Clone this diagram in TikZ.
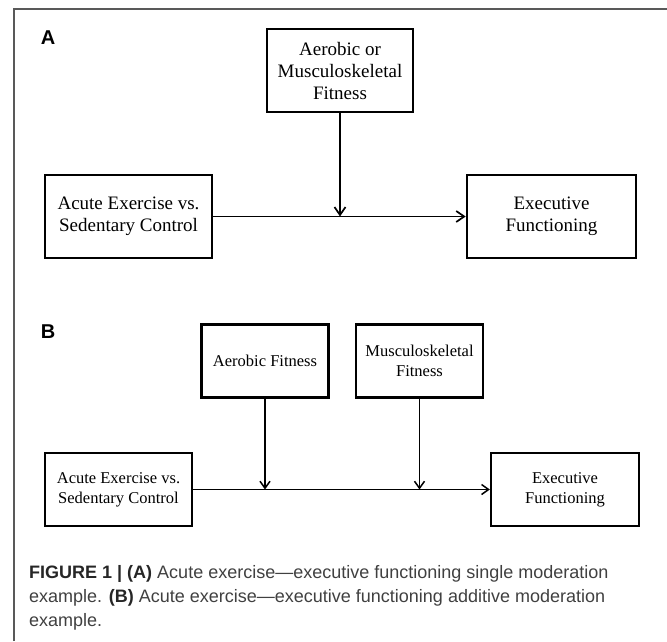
\documentclass[tikz,border=0pt]{standalone}
\usepackage{fontspec}
\setmainfont{Liberation Serif}
\setsansfont{Liberation Sans}
\usetikzlibrary{arrows.meta,positioning}
\definecolor{captext}{gray}{0.25}

\begin{document}
\begin{tikzpicture}[
    x=1pt, y=-1pt,
    every node/.style={inner sep=0pt},
    panel/.style={font=\sffamily\bfseries\fontsize{20}{22}\selectfont},
    boxA/.style={draw, line width=2.6pt, align=center, minimum height=83pt, font=\fontsize{19}{22}\selectfont},
    boxB/.style={draw, line width=2.3pt, align=center, minimum height=73pt, font=\fontsize{16.5}{20}\selectfont},
    flowA/.style={-{Straight Barb[length=8pt,width=11pt]}, line width=1.7pt},
    flowB/.style={-{Straight Barb[length=7pt,width=10pt]}, line width=1.5pt},
    frame/.style={draw=black!65, line width=1.3pt},
    caption/.style={align=left, text=captext, font=\sffamily\fontsize{18}{24}\selectfont}
]
\useasboundingbox (0,0) rectangle (667,641);
\draw[frame] (14,641) -- (14,9) -- (667,9);

% panel A: single moderation
\node[panel] (labA) at (48,38) {A};
\node[boxA, minimum width=146pt] (fitA) at (340,70.5) {Aerobic or\\Musculoskeletal\\Fitness};
\node[boxA, minimum width=167pt] (exA) at (128.5,216.5) {Acute Exercise vs.\\Sedentary Control};
\node[boxA, minimum width=169pt] (efA) at (551.5,216.5) {Executive\\Functioning};
\draw[flowA] (exA) -- (efA);
\draw[flowA] (fitA) -- (fitA |- exA);

% panel B: additive moderation
\node[panel] (labB) at (48,332) {B};
\node[boxB, minimum width=127pt] (aerB) at (265,361) {Aerobic Fitness};
\node[boxB, minimum width=127pt] (musB) at (419.5,361) {Musculoskeletal\\Fitness};
\node[boxB, minimum width=147pt] (exB) at (118.5,489.5) {Acute Exercise vs.\\Sedentary Control};
\node[boxB, minimum width=148pt] (efB) at (565,489.5) {Executive\\Functioning};
\draw[flowB] (exB) -- (efB);
\draw[flowB] (aerB) -- (aerB |- exB);
\draw[flowB] (musB) -- (musB |- exB);

\node[caption, anchor=north west] (cap) at (29,565) {\textcolor{black!85}{\bfseries FIGURE 1 | (A)} Acute exercise—executive functioning single moderation\\example. \textcolor{black!85}{\bfseries (B)} Acute exercise—executive functioning additive moderation\\example.};
\end{tikzpicture}
\end{document}
